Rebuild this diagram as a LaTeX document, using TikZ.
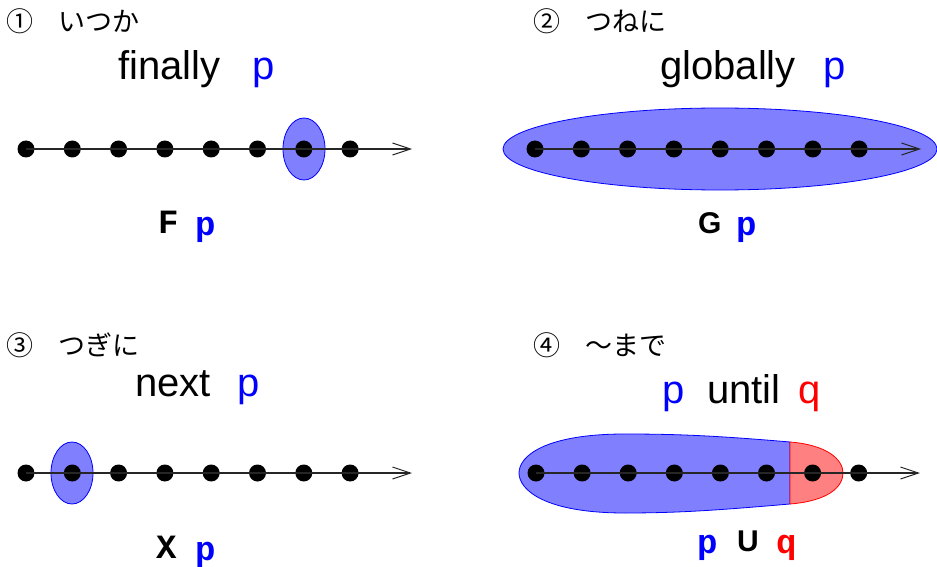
\documentclass[tikz,border=0pt]{standalone}
\usepackage{fontspec}
\setmainfont{Liberation Sans}
\newfontfamily\jpfont{Noto Sans CJK JP}
\newfontfamily\monofont{Liberation Mono}
\usetikzlibrary{shapes.geometric,arrows.meta}
\begin{document}
\begin{tikzpicture}[x=1pt,y=-1pt,
  dot/.style={circle,fill=black,inner sep=0pt,minimum size=17pt},
  axis/.style={draw=black!85,line width=1.2pt,-{Straight Barb[length=18pt,width=12pt,line width=1pt]}},
  pblob/.style={ellipse,draw=blue,fill=blue!50,line width=0.8pt,inner sep=0pt},
  head/.style={font=\jpfont\fontsize{27}{29}\selectfont,anchor=west,inner sep=0pt},
  big/.style={font=\fontsize{40}{44}\selectfont,anchor=base west,inner sep=0pt},
  mono/.style={font=\monofont\bfseries\fontsize{34}{36}\selectfont,anchor=base west,inner sep=0pt},
  sansb/.style={font=\bfseries\fontsize{30}{32}\selectfont,anchor=base west,inner sep=0pt}]
\useasboundingbox (0,0) rectangle (937,567);

% ---------- panel 1 ----------
\node[head] (n1) at (6,21) {①};
\node[head] (h1) at (58,21) {いつか};
\node[big] (f1) at (118,80) {finally};
\node[big,text=blue] (f1p) at (252,80) {p};
\node[pblob,minimum width=42pt,minimum height=62pt] (e1) at (304,149) {};
\foreach \i in {1,...,8} \node[dot] (a\i) at ({26+46.3*(\i-1)},149) {};
\coordinate (t1) at (412,149);
\draw[axis] (a1.center) -- (t1);
\node[mono] (o1) at (158,233) {F};
\node[mono,text=blue] (o1p) at (195,235) {p};

% ---------- panel 2 ----------
\node[head] (n2) at (533,21) {②};
\node[head] (h2) at (585,21) {つねに};
\node[big] (f2) at (660,80) {globally};
\node[big,text=blue] (f2p) at (823,80) {p};
\node[pblob,minimum width=434pt,minimum height=82pt] (e2) at (720,149) {};
\foreach \i in {1,...,8} \node[dot] (b\i) at ({535+46.3*(\i-1)},149) {};
\coordinate (t2) at (921,149);
\draw[axis] (b1.center) -- (t2);
\node[sansb] (o2) at (698,233) {G};
\node[mono,text=blue] (o2p) at (736,235) {p};

% ---------- panel 3 ----------
\node[head] (n3) at (6,345) {③};
\node[head] (h3) at (58,345) {つぎに};
\node[big] (f3) at (135,396) {next};
\node[big,text=blue] (f3p) at (237,396) {p};
\node[pblob,minimum width=42pt,minimum height=62pt] (e3) at (72,473) {};
\foreach \i in {1,...,8} \node[dot] (c\i) at ({26+46.3*(\i-1)},473) {};
\coordinate (t3) at (412,473);
\draw[axis] (c1.center) -- (t3);
\node[mono] (o3) at (156,558) {X};
\node[mono,text=blue] (o3p) at (195,560) {p};

% ---------- panel 4 ----------
\node[head] (n4) at (533,345) {④};
\node[head] (h4) at (585,345) {～まで};
\node[big,text=blue] (f4p) at (662,403) {p};
\node[big] (f4) at (707,403) {until};
\node[big,text=red] (f4q) at (798,403) {q};
\draw[blue,fill=blue!50,line width=0.8pt]
  (790,442) .. controls (720,436) and (680,434) .. (625,434)
  .. controls (545,434) and (519,456) .. (519,473)
  .. controls (519,490) and (545,513) .. (625,513)
  .. controls (680,513) and (720,510) .. (790,504) -- cycle;
\draw[red,fill=red!50,line width=0.8pt]
  (790,442) .. controls (828,445) and (843,460) .. (843,473)
  .. controls (843,487) and (828,501) .. (790,504) -- cycle;
\foreach \i in {1,...,8} \node[dot] (d\i) at ({536+46.1*(\i-1)},473) {};
\coordinate (t4) at (920,473);
\draw[axis] (d1.center) -- (t4);
\node[mono,text=blue] (o4p) at (697,553) {p};
\node[sansb] (o4) at (737,551) {U};
\node[mono,text=red] (o4q) at (776,553) {q};
\end{tikzpicture}
\end{document}
